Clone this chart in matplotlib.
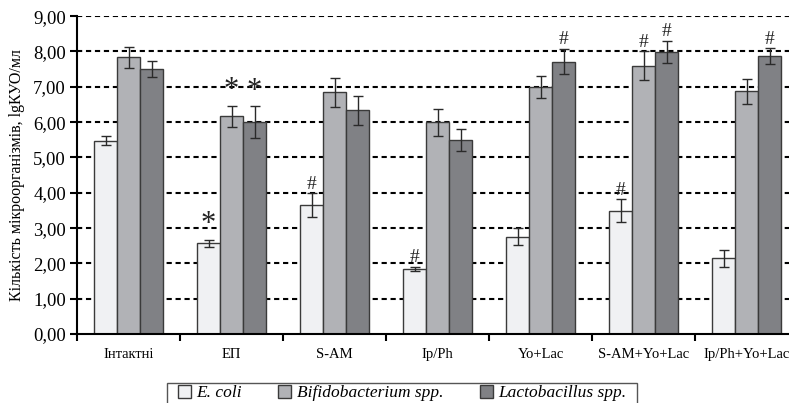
import matplotlib.pyplot as plt
import matplotlib.patches as mpatches
import numpy as np

groups = ['Інтактні', 'ЕП', 'S-AM', 'Ip/Ph', 'Yo+Lac', 'S-AM+Yo+Lac', 'Ip/Ph+Yo+Lac']
series = ['E. coli', 'Bifidobacterium spp.', 'Lactobacillus spp.']

ecoli = [5.47, 2.57, 3.64, 1.84, 2.76, 3.49, 2.14]
ecoli_err = [0.13, 0.10, 0.34, 0.06, 0.23, 0.32, 0.23]
bifido = [7.83, 6.16, 6.84, 6.00, 6.99, 7.60, 6.87]
bifido_err = [0.31, 0.31, 0.40, 0.38, 0.31, 0.40, 0.35]
lacto = [7.50, 6.00, 6.33, 5.49, 7.71, 7.99, 7.87]
lacto_err = [0.22, 0.45, 0.42, 0.32, 0.36, 0.31, 0.22]

# marks above bars: (group, series index, symbol)
marks = [(1, 0, '*'), (1, 1, '*'), (1, 2, '*'),
         (2, 0, '#'), (3, 0, '#'), (4, 2, '#'),
         (5, 0, '#'), (5, 1, '#'), (5, 2, '#'), (6, 2, '#')]

colors = ['#f0f1f3', '#b1b2b6', '#808185']
edge = '#3a3a3a'

plt.rcParams['font.family'] = ['Liberation Serif', 'DejaVu Serif']

fig = plt.figure(figsize=(7.89, 4.03), dpi=100)
ax = fig.add_axes([0.0976, 0.171, 0.9024, 0.789])

x = np.arange(len(groups))
w = 0.223
vals = [ecoli, bifido, lacto]
errs = [ecoli_err, bifido_err, lacto_err]

ax.set_axisbelow(True)
for k in [1, 2, 3, 4, 5, 6, 7, 8, 9]:
    ax.axhline(k, color='black', linestyle=(0, (2.5, 1.8)), linewidth=1.5, zorder=0)

for i in range(3):
    ax.bar(x + (i - 1) * w, vals[i], w, color=colors[i], edgecolor=edge,
           linewidth=1.0, label=series[i], zorder=2)
    ax.errorbar(x + (i - 1) * w, vals[i], yerr=errs[i], fmt='none',
                ecolor='#2a2a2a', elinewidth=1.0, capsize=3.5, capthick=1.0, zorder=3)

for g, s, sym in marks:
    top = vals[s][g] + errs[s][g]
    if sym == '*':
        ax.text(x[g] + (s - 1) * w, top + 0.02, sym, ha='center', va='bottom',
                fontsize=22, color='#222222', zorder=4)
    else:
        ax.text(x[g] + (s - 1) * w, top + 0.02, sym, ha='center', va='bottom',
                fontsize=14, color='#222222', zorder=4)

ax.set_xlim(-0.5, 6.41)
ax.set_ylim(0, 9)
ax.set_yticks(range(10))
ax.set_yticklabels(['%d,00' % v for v in range(10)], fontsize=13.5)
ax.set_xticks(np.arange(-0.5, 6.5, 1.0))
ax.set_xticklabels([])
ax.set_xticks(x, minor=True)
ax.set_xticklabels(groups, minor=True, fontsize=10.5)
ax.tick_params(axis='x', which='minor', length=0, pad=10)
ax.tick_params(axis='x', which='major', length=5, width=1.5, direction='out')
ax.tick_params(axis='y', length=5, width=1.5, direction='out', pad=3)

for sp in ['top', 'right']:
    ax.spines[sp].set_visible(False)
for sp in ['left', 'bottom']:
    ax.spines[sp].set_linewidth(1.5)
    ax.spines[sp].set_color('black')

ax.set_ylabel('Кількість мікроорганізмів, lgКУО/мл', fontsize=11.5, labelpad=6)

# legend frame drawn separately, it runs off the bottom edge
frame = mpatches.Rectangle((167 / 789, -0.05), (637 - 167) / 789, 0.05 + 20 / 403,
                           transform=fig.transFigure, fill=False, edgecolor='#555555',
                           linewidth=1.0)
fig.patches.append(frame)

leg = ax.legend(loc='upper left', bbox_to_anchor=(178 / 789, 18 / 403), bbox_transform=fig.transFigure,
                ncol=3, frameon=False,
                prop={'style': 'italic', 'size': 12.5, 'family': 'Liberation Serif'},
                handlelength=0.75, handleheight=0.75, handletextpad=0.3, columnspacing=2.1,
                borderpad=0, borderaxespad=0)

fig.savefig('out.png', dpi=100)
